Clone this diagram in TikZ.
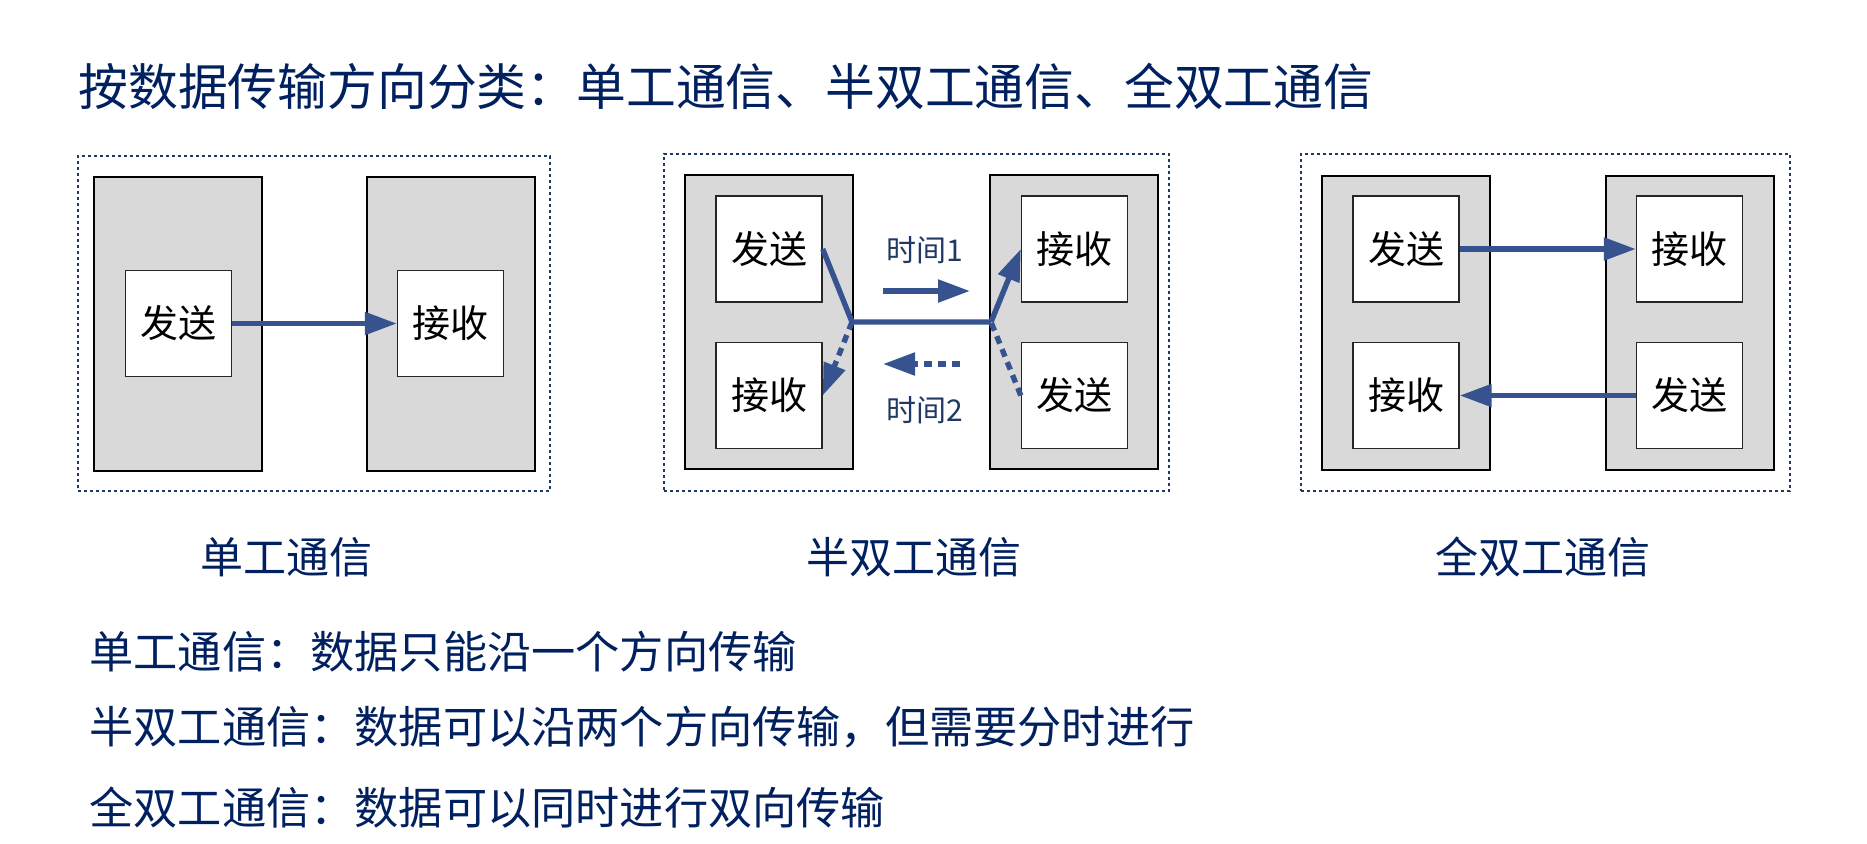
\documentclass[tikz,border=0pt]{standalone}
\usepackage{fontspec}
\setmainfont{Noto Sans CJK SC}
\usetikzlibrary{arrows.meta}
\definecolor{navy}{HTML}{002060}
\definecolor{arrowblue}{HTML}{36538F}
\definecolor{framecol}{HTML}{203864}
\definecolor{grayfill}{HTML}{D9D9D9}
\tikzset{
  frame/.style={draw=framecol, line width=0.9pt, dash pattern=on 1.5pt off 1.5pt, minimum width=#1, inner sep=0pt},
  graybox/.style={draw=black, line width=1pt, fill=grayfill, minimum width=84pt, minimum height=147pt, inner sep=0pt},
  whitebox/.style={draw=black!85, line width=0.7pt, fill=white, minimum width=53pt, minimum height=53pt, inner sep=0pt, font=\fontsize{19}{19}\selectfont},
  arr/.style={draw=arrowblue, line width=2.7pt, -{Triangle[length=16pt,width=11pt]}},
  conn/.style={draw=arrowblue, line width=2.7pt},
  dsh/.style={dash pattern=on 4pt off 3pt},
  timelbl/.style={text=framecol, font=\fontsize{15}{15}\selectfont, inner sep=0pt},
  caption/.style={text=navy, font=\fontsize{21.5}{21.5}\selectfont, inner sep=0pt},
  desc/.style={text=navy, font=\fontsize{22.1}{22.1}\selectfont, inner sep=0pt, anchor=west},
}
\begin{document}
\begin{tikzpicture}[x=0.5pt, y=-0.5pt]
\useasboundingbox (0,0) rectangle (1867,843);
% title
\node[text=navy, font=\fontsize{24.9}{24.9}\selectfont, inner sep=0pt, anchor=west] (title) at (78,86) {按数据传输方向分类：单工通信、半双工通信、全双工通信};

% ---------- simplex ----------
\node[frame=236pt, minimum height=167.5pt] (f1) at (314,323.5) {};
\node[graybox] (a1) at (178,323.5) {};
\node[graybox] (a2) at (450.5,323.5) {};
\node[whitebox] (s1) at (178.5,323.5) {发送};
\node[whitebox] (r1) at (450.5,323.5) {接收};
\draw[arr] (s1.east) -- (r1.west);
\node[caption] (c1) at (286,557) {单工通信};

% ---------- half duplex ----------
\node[frame=252.5pt, minimum height=168.5pt] (f2) at (916.5,322.5) {};
\node[graybox] (b1) at (769,322) {};
\node[graybox] (b2) at (1074,322) {};
\node[whitebox] (hs1) at (769,249) {发送};
\node[whitebox] (hr1) at (769,395.5) {接收};
\node[whitebox] (hr2) at (1074.5,249) {接收};
\node[whitebox] (hs2) at (1074.5,395.5) {发送};
\coordinate (j1) at (852,322);
\coordinate (j2) at (991,322);
\draw[conn, line join=round] (hs1.east) -- (j1) -- (j2);
\draw[arr] (j2) -- (hr2.west);
\draw[arr, dsh] (j1) -- (hr1.east);
\draw[conn, dsh] (hs2.west) -- (j2);
\node[timelbl] (t1) at (925,250) {时间1};
\coordinate (t1a) at (883,291);
\coordinate (t1b) at (970,291);
\draw[arr] (t1a) -- (t1b);
\node[timelbl] (t2) at (925,410) {时间2};
\coordinate (t2a) at (960,364);
\coordinate (t2b) at (883,364);
\draw[arr, dsh] (t2a) -- (t2b);
\node[caption] (c2) at (914,557) {半双工通信};

% ---------- full duplex ----------
\node[frame=244.5pt, minimum height=168.5pt] (f3) at (1545.5,322.5) {};
\node[graybox] (d1) at (1406,322.5) {};
\node[graybox] (d2) at (1690,322.5) {};
\node[whitebox] (fs1) at (1406,249) {发送};
\node[whitebox] (fr1) at (1406,395.5) {接收};
\node[whitebox] (fr2) at (1689.5,249) {接收};
\node[whitebox] (fs2) at (1689.5,395.5) {发送};
\draw[arr] (fs1.east) -- (fr2.west);
\draw[arr] (fs2.west) -- (fr1.east);
\node[caption] (c3) at (1543,557) {全双工通信};

% ---------- descriptions ----------
\node[desc] (l1) at (89,652) {单工通信：数据只能沿一个方向传输};
\node[desc] (l2) at (89,727) {半双工通信：数据可以沿两个方向传输，但需要分时进行};
\node[desc] (l3) at (89,808) {全双工通信：数据可以同时进行双向传输};
\end{tikzpicture}
\end{document}
